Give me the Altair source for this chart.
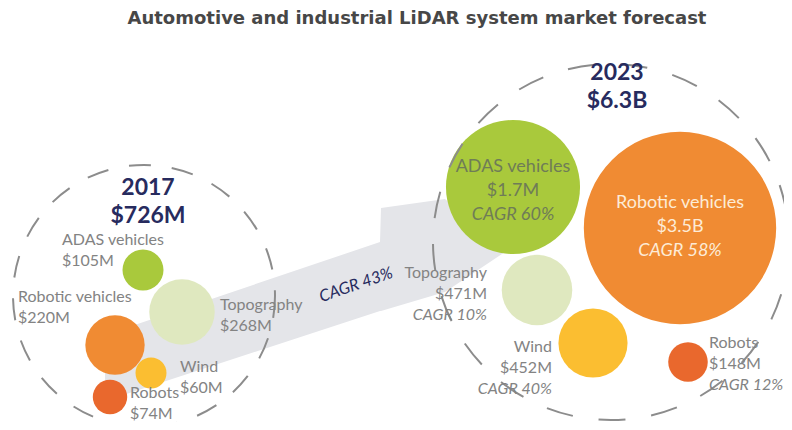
import altair as alt
import pandas as pd

# ---------------- data ----------------
title_text = "Automotive and industrial LiDAR system market forecast"
segments = ["ADAS vehicles", "Topography", "Robotic vehicles", "Wind", "Robots"]
segment_colors = ["#a9c93c", "#dfe8bf", "#f08b33", "#fbbe31", "#e9682d"]
years = ["2017", "2023"]
year_totals = ["$726M", "$6.3B"]
values_2017 = [105, 268, 220, 60, 74]
values_2023 = [1700, 471, 3500, 452, 148]
value_labels_2017 = ["$105M", "$268M", "$220M", "$60M", "$74M"]
value_labels_2023 = ["$1.7M", "$471M", "$3.5B", "$452M", "$148M"]
cagr_labels_2023 = ["CAGR 60%", "CAGR 10%", "CAGR 58%", "CAGR 40%", "CAGR 12%"]
overall_cagr = "CAGR 43%"

# ---------------- layout (reference canvas coordinates) ----------------
bubble_x_2017 = [143, 182, 115, 151, 110]
bubble_y_2017 = [270, 312, 345, 373, 397]
bubble_x_2023 = [513, 537, 680, 593, 688]
bubble_y_2023 = [187, 290, 228, 343, 362]
group_x = [144, 611]
group_y = [296, 242]
year_label_y = [188, 73]
label_x_2017 = [62, 220, 18, 180, 130]
label_y_2017 = [240, 305, 297, 367, 393]
label_x_2023 = [513, 487, 680, 552, 709]
label_y_2023 = [167, 273, 203, 347, 343]
align_2023 = ["center", "right", "center", "right", "left"]
arrow_x = [105, 380, 381, 445, 505]
arrow_top = [335, 242, 208, 199, 250]
arrow_bottom = [401, 311, 311, 292, 252]
cagr_pos = (356, 285)

GRAY = "#838383"
NAVY = "#272b5e"
FONT = "Lato"

XS = alt.Scale(domain=[8, 784])
YS = alt.Scale(domain=[8, 422], reverse=True)


def X():
    return alt.X("x:Q", scale=XS, axis=None)


def Y():
    return alt.Y("y:Q", scale=YS, axis=None)


# arrow
arrow_df = pd.DataFrame({"x": arrow_x, "y": arrow_top, "y2": arrow_bottom})
arrow = alt.Chart(arrow_df).mark_area(fill="#e4e5e9", opacity=1, interpolate="linear").encode(
    x=alt.X("x:Q", scale=XS, axis=None),
    y=alt.Y("y:Q", scale=YS, axis=None, stack=None),
    y2=alt.Y2("y2:Q"))

# bubbles
b17 = pd.DataFrame({"segment": segments, "value": values_2017,
                    "x": bubble_x_2017, "y": bubble_y_2017})
b23 = pd.DataFrame({"segment": segments, "value": values_2023,
                    "x": bubble_x_2023, "y": bubble_y_2023})
color_enc = alt.Color("segment:N", scale=alt.Scale(domain=segments, range=segment_colors),
                      legend=None)
bub17 = alt.Chart(b17).mark_circle(opacity=1).encode(
    x=X(), y=Y(), color=color_enc,
    size=alt.Size("value:Q", scale=alt.Scale(domain=[0, 300], range=[0, 4800]), legend=None))
bub23 = alt.Chart(b23).mark_circle(opacity=1).encode(
    x=X(), y=Y(), color=color_enc,
    size=alt.Size("value:Q", scale=alt.Scale(domain=[0, 3500], range=[0, 37000]), legend=None))

# dashed group circles
g_df = pd.DataFrame({"year": years, "x": group_x, "y": group_y})
ring17 = alt.Chart(g_df.iloc[[0]]).mark_point(
    shape="circle", filled=False, stroke="#8c8c8c", strokeWidth=2, strokeDash=[22, 21],
    opacity=1).encode(x=X(), y=Y(), size=alt.value(4 * 131 * 131))
ring23 = alt.Chart(g_df.iloc[[1]]).mark_point(
    shape="circle", filled=False, stroke="#8c8c8c", strokeWidth=2, strokeDash=[27, 26],
    opacity=1).encode(x=X(), y=Y(), size=alt.value(4 * 178 * 178))


def text_layer(rows, align="left", color=GRAY, size=16, style="normal",
               weight="normal", angle=0, font=FONT):
    df = pd.DataFrame(rows, columns=["x", "y", "text"])
    kw = dict(align=align, baseline="middle", color=color, fontSize=size,
              fontStyle=style, fontWeight=weight, font=font)
    if angle:
        kw["angle"] = angle
    return alt.Chart(df).mark_text(**kw).encode(x=X(), y=Y(), text="text:N")


# 2017 labels (name + value)
rows17 = []
for i, seg in enumerate(segments):
    rows17.append((label_x_2017[i], label_y_2017[i], seg))
    rows17.append((label_x_2017[i], label_y_2017[i] + 21, value_labels_2017[i]))

layers_text = [text_layer(rows17, "left")]

# 2023 labels
inner_colors = {0: "#6f7c57", 2: "#fdebd7"}
for i, seg in enumerate(segments):
    gap = 24 if i in inner_colors else 21
    col = inner_colors.get(i, GRAY)
    sz = 18 if i in inner_colors else 16
    x0, y0 = label_x_2023[i], label_y_2023[i]
    layers_text.append(text_layer([(x0, y0, seg), (x0, y0 + gap, value_labels_2023[i])],
                                  align_2023[i], col, sz))
    layers_text.append(text_layer([(x0, y0 + 2 * gap, cagr_labels_2023[i])],
                                  align_2023[i], col, sz, style="italic"))

# year headers
hdr = []
for i in range(2):
    hdr.append((group_x[i] + (4 if i == 0 else 6), year_label_y[i], years[i]))
    hdr.append((group_x[i] + (4 if i == 0 else 6), year_label_y[i] + 28, year_totals[i]))
layers_text.append(text_layer(hdr, "center", NAVY, 23, weight="bold"))

# overall CAGR on the arrow
layers_text.append(text_layer([(cagr_pos[0], cagr_pos[1], overall_cagr)], "center", NAVY, 16.5,
                              style="italic", angle=341))

# title
layers_text.append(text_layer([(417, 19, title_text)], "center", "#474747", 18,
                              weight="bold", font="DejaVu Sans"))

chart = alt.layer(arrow, bub17, bub23, ring17, ring23, *layers_text).resolve_scale(
    size="independent", color="shared"
).properties(
    width=776, height=414, padding=0, autosize=alt.AutoSizeParams(type="none")
).configure_view(stroke=None)

chart.save("out.html", embed_options={"renderer": "svg", "actions": False})
